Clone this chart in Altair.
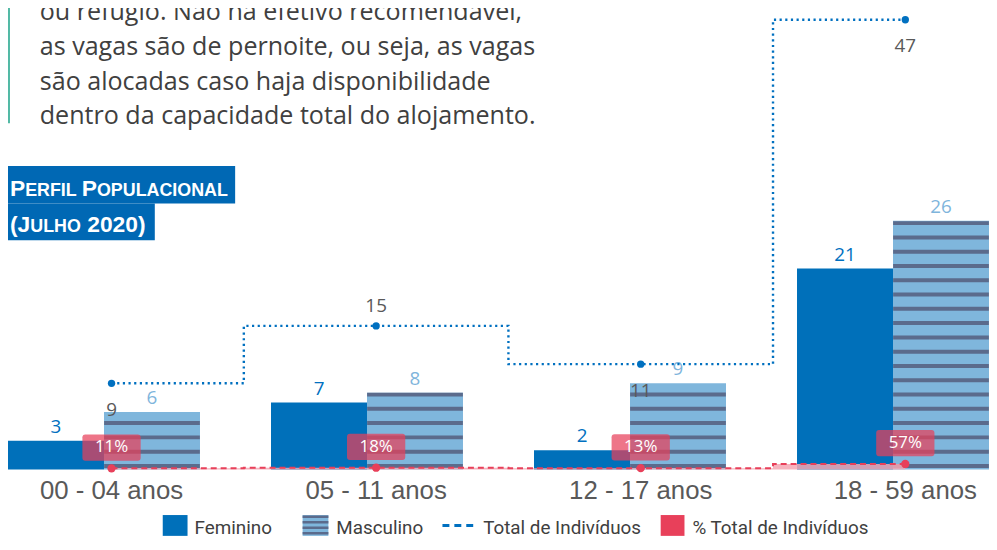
import altair as alt
import pandas as pd

categories = ["00 - 04 anos", "05 - 11 anos", "12 - 17 anos", "18 - 59 anos"]
sexes = ["Feminino", "Masculino"]
feminino = [3, 7, 2, 21]
masculino = [6, 8, 9, 26]
total = [9, 15, 11, 47]
pct = [0.11, 0.18, 0.13, 0.57]
pct_labels = ["11%", "18%", "13%", "57%"]
paragraph = [
    "ou refúgio. Não há efetivo recomendável,",
    "as vagas são de pernoite, ou seja, as vagas",
    "são alocadas caso haja disponibilidade",
    "dentro da capacidade total do alojamento.",
]
legend_labels = ["Feminino", "Masculino", "Total de Indivíduos", "% Total de Indivíduos"]

BLUE = "#0070BA"
LIGHT = "#7FB6DC"
STRIPE = "#5B6B8C"
RED = "#E8405A"
GRAY = "#595959"
DARK = "#404040"

bars = pd.DataFrame({
    "cat": categories * 2,
    "sexo": [sexes[0]] * 4 + [sexes[1]] * 4,
    "valor": feminino + masculino,
})
bars["zero"] = 0
tot = pd.DataFrame({"cat": categories, "total": total, "pct": pct, "pct_label": pct_labels})
tot["zero"] = 0

xband = alt.Scale(type="band", domain=categories, paddingInner=0.27, paddingOuter=0)
xpoint = alt.Scale(type="point", domain=categories, padding=0.3538, align=0.553)
ydom = alt.Scale(domain=[0, 48], nice=False, zero=True)
xb = alt.X("cat:N", scale=xband, title=None, axis=None)
xp = alt.X("cat:N", scale=xpoint, title=None, axis=None)
xoff = alt.XOffset("sexo:N", scale=alt.Scale(domain=sexes, paddingInner=0, paddingOuter=0))

base_b = alt.Chart(bars)
bar_layer = base_b.mark_bar().encode(
    x=xb, xOffset=xoff,
    y=alt.Y("valor:Q", scale=ydom, axis=None),
    color=alt.Color("sexo:N", scale=alt.Scale(domain=sexes, range=[BLUE, LIGHT]), legend=None),
)
stripes = base_b.transform_filter(alt.datum.sexo == "Masculino").mark_rule(
    strokeWidth=96.5, strokeDash=[4, 10.4], strokeDashOffset=12.9, color=STRIPE, strokeCap="butt"
).encode(x=xb, xOffset=xoff, y=alt.Y("zero:Q", scale=ydom, axis=None), y2="valor:Q")
bar_text = base_b.mark_text(dy=-14, fontSize=19, font="Open Sans", baseline="middle").encode(
    x=xb, xOffset=xoff, y=alt.Y("valor:Q", scale=ydom, axis=None), text="valor:Q",
    color=alt.condition(alt.datum.sexo == "Feminino", alt.value("#0070C0"), alt.value("#7FB5DC")),
)

base_t = alt.Chart(tot)
cat_labels = base_t.mark_text(baseline="top", fontSize=26, font="Liberation Sans",
                              color=GRAY).encode(x=xp, y=alt.value(472), text="cat:N")
tot_line = base_t.mark_line(interpolate="step", color="#0070C0", strokeWidth=2.4,
                            strokeDash=[2.2, 3.5], strokeCap="butt").encode(
    x=xp, y=alt.Y("total:Q", scale=ydom, axis=None))
tot_pts = base_t.mark_circle(size=55, color="#0070C0", opacity=1).encode(
    x=xp, y=alt.Y("total:Q", scale=ydom, axis=None))
tot_text_above = base_t.transform_filter(alt.datum.cat == "05 - 11 anos").mark_text(
    dy=-20, fontSize=19, font="Open Sans", color=GRAY, baseline="middle").encode(
    x=xp, y=alt.Y("total:Q", scale=ydom, axis=None), text="total:Q")
tot_text_below = base_t.transform_filter(alt.datum.cat != "05 - 11 anos").mark_text(
    dy=27, fontSize=19, font="Open Sans", color=GRAY, baseline="middle").encode(
    x=xp, y=alt.Y("total:Q", scale=ydom, axis=None), text="total:Q")

pct_area = base_t.mark_area(interpolate="step", color="#F4A6B3", opacity=0.85).encode(
    x=xp, y=alt.Y("pct:Q", scale=ydom, axis=None), y2="zero:Q")
pct_line = base_t.mark_line(interpolate="step", color=RED, strokeWidth=2, strokeDash=[6, 4]).encode(
    x=xp, y=alt.Y("pct:Q", scale=ydom, axis=None))
pct_pts = base_t.mark_circle(size=70, color=RED, opacity=1).encode(
    x=xp, y=alt.Y("pct:Q", scale=ydom, axis=None))
box_path = ("M-0.9,-0.45 H0.9 Q1,-0.45 1,-0.35 V0.35 Q1,0.45 0.9,0.45 H-0.9 "
            "Q-1,0.45 -1,0.35 V-0.35 Q-1,-0.45 -0.9,-0.45 Z")
pct_box = base_t.mark_point(shape=box_path, size=3450, filled=True, color=RED,
                            opacity=0.72, strokeWidth=0).encode(
    x=xp, y=alt.Y("pct:Q", scale=ydom, axis=None), yOffset=alt.value(-21))
pct_text = base_t.mark_text(dy=-21, fontSize=17, font="Open Sans", color="white",
                            baseline="middle").encode(
    x=xp, y=alt.Y("pct:Q", scale=ydom, axis=None), text="pct_label:N")

one = pd.DataFrame({"k": [0]})

teal = alt.Chart(one).mark_rule(color="#52B9A5", strokeWidth=2).encode(
    x=alt.value(1), y=alt.value(-8), y2=alt.value(114))
para = alt.Chart(pd.DataFrame({"t": ["\n".join(paragraph)]})).mark_text(
    align="left", baseline="alphabetic", fontSize=25.3, font="Open Sans", color=DARK,
    lineHeight=35, lineBreak="\n").encode(x=alt.value(32), y=alt.value(10), text="t:N")

box1 = alt.Chart(one).mark_rect(color="#0068B4").encode(
    x=alt.value(0), x2=alt.value(229), y=alt.value(157), y2=alt.value(195))
box2 = alt.Chart(one).mark_rect(color="#0068B4").encode(
    x=alt.value(0), x2=alt.value(148), y=alt.value(195), y2=alt.value(232))

title_pieces = [
    ("P", 23, 2, 187), ("ERFIL", 18, 17.3, 187), ("P", 23, 74.3, 187), ("OPULACIONAL", 18, 89.7, 187),
    ("(J", 23, 2, 224), ("ULHO", 18, 22.5, 224), ("2020)", 23, 79.9, 224),
]
title_layers = []
for txt, fs, px, py in title_pieces:
    title_layers.append(
        alt.Chart(pd.DataFrame({"t": [txt]})).mark_text(
            align="left", baseline="alphabetic", fontSize=fs, font="Liberation Sans",
            fontWeight="bold", color="white").encode(x=alt.value(px), y=alt.value(py), text="t:N"))

LY0, LY1, LTXT = 509, 530, 528
leg = []
leg.append(alt.Chart(one).mark_rect(color=BLUE).encode(
    x=alt.value(156), x2=alt.value(181), y=alt.value(LY0), y2=alt.value(LY1)))
leg.append(alt.Chart(one).mark_rect(color=LIGHT).encode(
    x=alt.value(297), x2=alt.value(323), y=alt.value(LY0), y2=alt.value(LY1)))
leg.append(alt.Chart(one).mark_rule(color=STRIPE, strokeWidth=26, strokeDash=[2.5, 3],
                                    strokeDashOffset=4, strokeCap="butt").encode(
    x=alt.value(310), y=alt.value(LY1), y2=alt.value(LY0)))
leg.append(alt.Chart(one).mark_rule(color="#0070C0", strokeWidth=3, strokeDash=[7, 5],
                                    strokeCap="butt").encode(
    x=alt.value(438), x2=alt.value(470), y=alt.value((LY0 + LY1) / 2)))
leg.append(alt.Chart(one).mark_rect(color=RED).encode(
    x=alt.value(658), x2=alt.value(682), y=alt.value(LY0), y2=alt.value(LY1)))
for lab, px in zip(legend_labels, [188, 331, 479, 690]):
    leg.append(alt.Chart(pd.DataFrame({"t": [lab]})).mark_text(
        align="left", baseline="alphabetic", fontSize=19,
        font="Roboto", color=DARK).encode(
        x=alt.value(px), y=alt.value(LTXT), text="t:N"))

chart = alt.layer(
    bar_layer, stripes, bar_text,
    pct_area, pct_line, pct_pts,
    tot_line, tot_pts, tot_text_above, tot_text_below,
    pct_box, pct_text, cat_labels,
    teal, para, box1, box2, *title_layers, *leg,
).resolve_scale(x="independent").properties(
    width=989, height=463,
    autosize=alt.AutoSizeParams(type="none"),
    padding={"left": 0, "top": 0, "right": 0, "bottom": 71},
    background="white",
).configure_view(stroke=None)

chart.save("out.html", embed_options={"renderer": "svg", "actions": False})
